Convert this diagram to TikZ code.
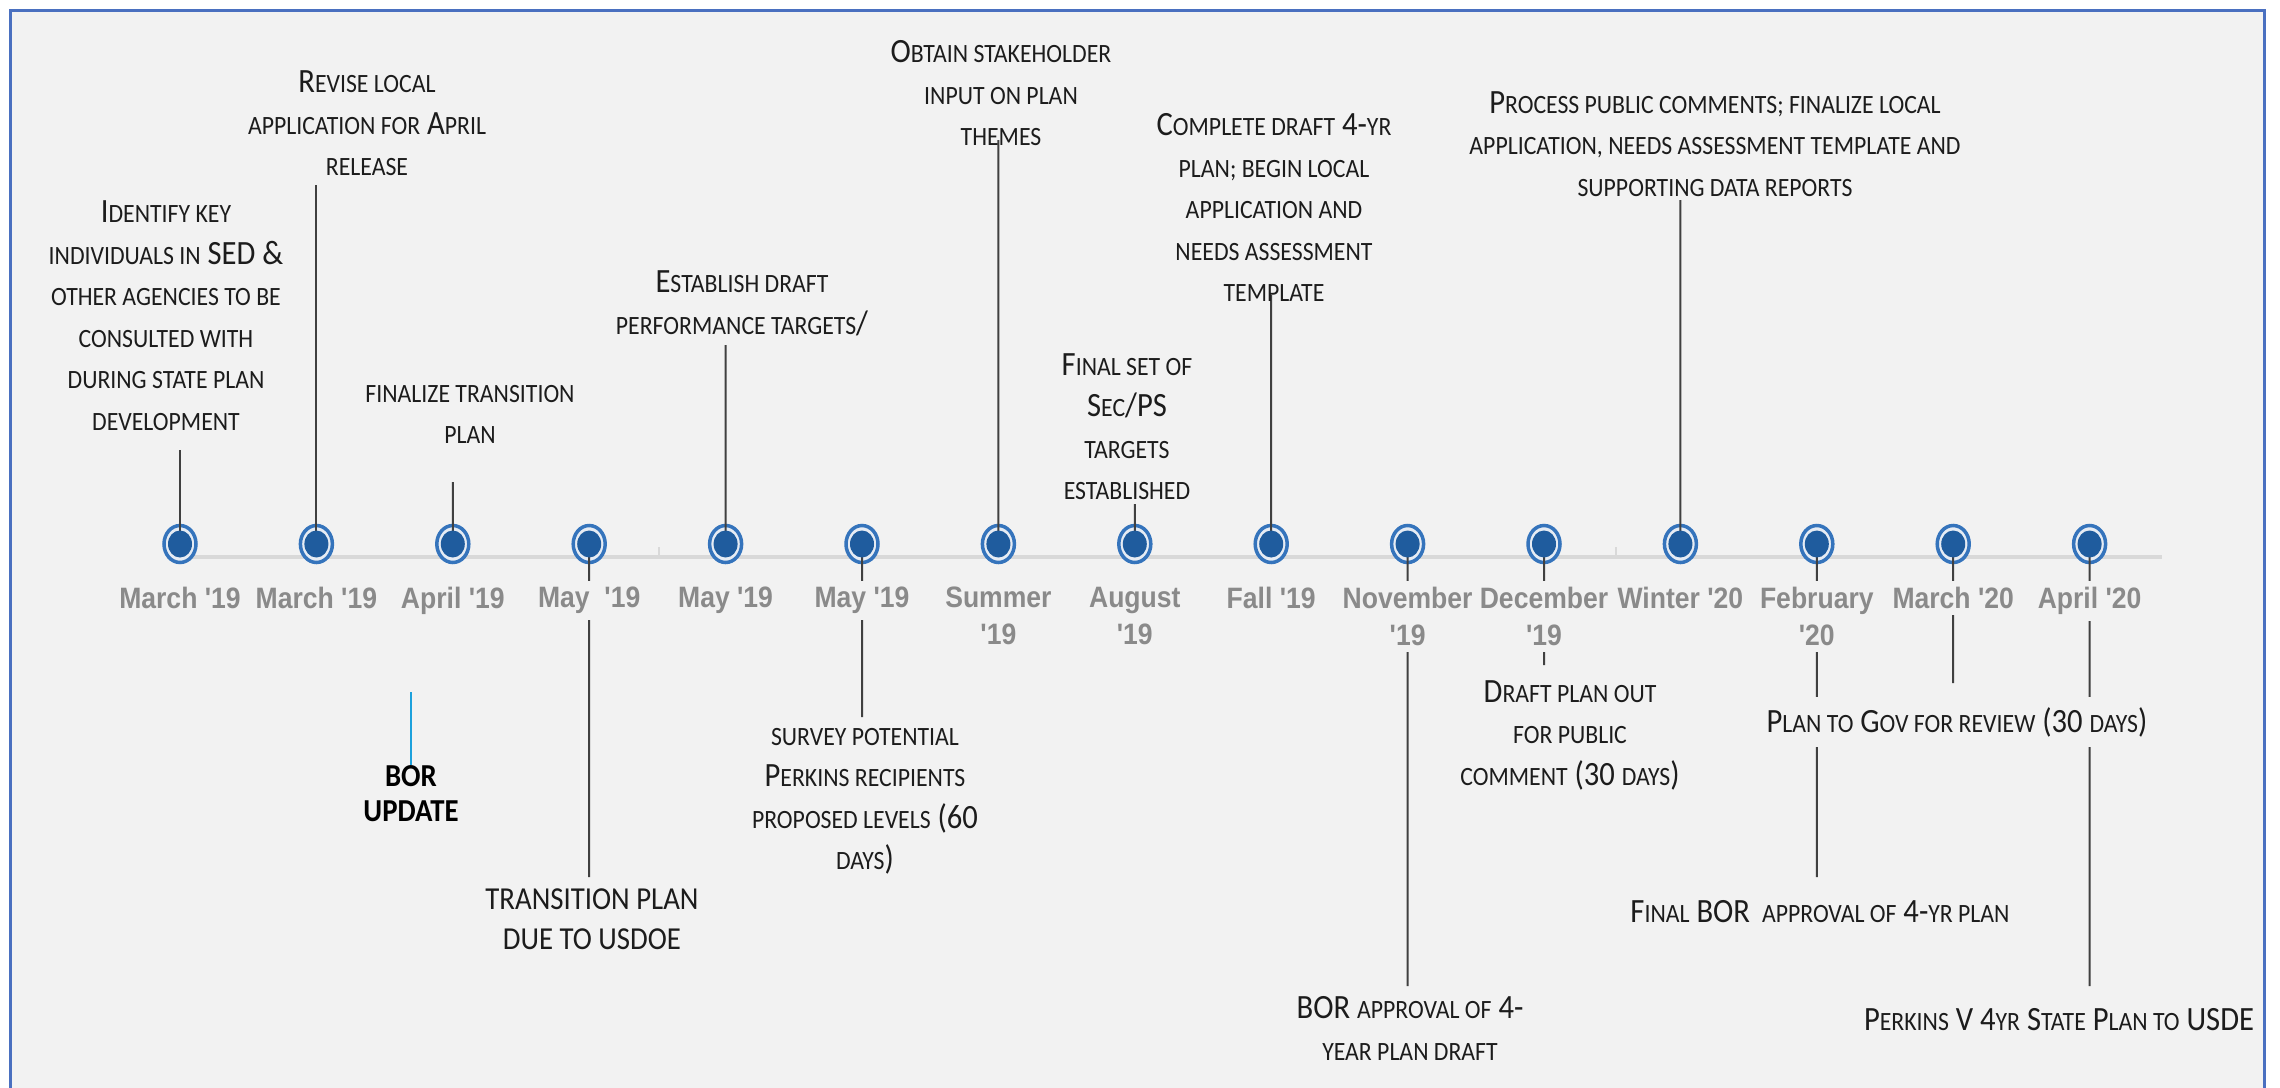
\documentclass[tikz,border=0pt]{standalone}
\usepackage{fontspec}
\usetikzlibrary{shapes.geometric}
\newfontfamily\evfont[FakeStretch=0.9]{Carlito}
\newfontfamily\datefont[FakeStretch=0.9]{Liberation Sans}
\newcommand\lowsc[1]{{\fontsize{26.4}{41.5}\selectfont\MakeUppercase{#1}}}
\definecolor{bg}{HTML}{F2F2F2}
\definecolor{framec}{HTML}{4A70C0}
\definecolor{axisc}{HTML}{D9D9D9}
\definecolor{ringc}{HTML}{3574BC}
\definecolor{corec}{HTML}{1F5C9E}
\definecolor{ringin}{HTML}{E6ECF4}
\definecolor{datec}{HTML}{8A8A8A}
\definecolor{txt}{HTML}{1C1C1C}
\definecolor{connc}{HTML}{404040}
\definecolor{borc}{HTML}{1DA1DC}
\begin{document}
\begin{tikzpicture}[x=1pt,y=-1pt,
  ring/.style={ellipse,draw=ringc,line width=3.5pt,fill=ringin,minimum width=32pt,minimum height=37pt,inner sep=0pt},
  core/.style={ellipse,fill=corec,minimum width=24pt,minimum height=27pt,inner sep=0pt},
  conn/.style={draw=connc,line width=2pt},
  datelbl/.style={anchor=north,font=\datefont\bfseries\fontsize{29.5}{37}\selectfont,text=datec,fill=bg,align=center,inner sep=6pt},
  ev/.style={font=\evfont\fontsize{34}{41.5}\selectfont,align=center,text=txt,inner sep=0pt},
  evfill/.style={ev,fill=bg,inner xsep=4pt,inner ysep=10pt},
  caps/.style={font=\evfont\fontsize{32}{40}\selectfont,align=center,text=txt,inner sep=0pt},
  borlbl/.style={font=\evfont\bfseries\fontsize{32}{35}\selectfont,align=center,text=black,inner sep=0pt},
  borln/.style={draw=borc,line width=2.5pt},
  axis/.style={draw=axisc,line width=3.5pt}]
\useasboundingbox (0,0) rectangle (2280,1087);
\fill[white] (0,0) rectangle (2280,1087);
\draw[framec,line width=3pt,fill=bg] (10,10) rectangle (2264,1110);

% axis
\draw[axis] (167,557) -- (2162,557);
\draw[axisc,line width=1.5pt] (659,557) -- (659,547);
\draw[axisc,line width=1.5pt] (1616,557) -- (1616,547);

% rings
\foreach \i in {1,...,15}
  \node[ring] (d\i) at ({180+136.4*(\i-1)},544) {};

% connector ends
\coordinate (c1) at (180,450);
\coordinate (c2) at (316.4,185);
\coordinate (c3) at (452.8,482);
\coordinate (c4) at (589.2,877);
\coordinate (c5) at (725.6,345);
\coordinate (c6) at (862,717);
\coordinate (c7) at (998.4,140);
\coordinate (c8) at (1134.8,504);
\coordinate (c9) at (1271.2,295);
\coordinate (c10) at (1407.6,986);
\coordinate (c11) at (1544,665);
\coordinate (c12) at (1680.4,200);
\coordinate (c13) at (1816.8,877);
\coordinate (c14) at (1953.2,683);
\coordinate (c15) at (2089.6,986);
\foreach \i in {1,...,15}
  \draw[conn] (d\i.center) -- (c\i);

% cores
\foreach \i in {1,...,15}
  \node[core] (k\i) at (d\i) {};

% date labels
\node[datelbl] (l1) at (180,581) {March '19};
\node[datelbl] (l2) at (316.4,581) {March '19};
\node[datelbl] (l3) at (452.8,581) {April '19};
\node[datelbl] (l4) at (589.2,581) {May\ \ '19};
\node[datelbl] (l5) at (725.6,581) {May '19};
\node[datelbl] (l6) at (862,581) {May '19};
\node[datelbl] (l7) at (998.4,581) {Summer\\'19};
\node[datelbl] (l8) at (1134.8,581) {August\\'19};
\node[datelbl] (l9) at (1271.2,581) {Fall '19};
\node[datelbl] (l10) at (1407.6,581) {November\\'19};
\node[datelbl] (l11) at (1544,581) {December\\'19};
\node[datelbl] (l12) at (1680.4,581) {Winter '20};
\node[datelbl] (l13) at (1816.8,581) {February\\'20};
\node[datelbl] (l14) at (1953.2,581) {March '20};
\node[datelbl] (l15) at (2089.6,581) {April '20};

% event texts above
\node[ev] (t1) at (166,315.5) {I\lowsc{dentify key}\\\lowsc{individuals in} SED \&\\\lowsc{other agencies to be}\\\lowsc{consulted with}\\\lowsc{during state plan}\\\lowsc{development}};
\node[ev] (t2) at (367,123.5) {R\lowsc{evise local}\\\lowsc{application for} A\lowsc{pril}\\\lowsc{release}};
\node[ev] (t3) at (470,414.5) {\lowsc{finalize transition}\\\lowsc{plan}};
\node[ev] (t5) at (742,303.5) {E\lowsc{stablish draft}\\\lowsc{performance targets}/};
\node[ev] (t7) at (1001,93.5) {O\lowsc{btain stakeholder}\\\lowsc{input on plan}\\\lowsc{themes}};
\node[ev] (t8) at (1127,426.5) {F\lowsc{inal set of}\\S\lowsc{ec}/PS\\\lowsc{targets}\\\lowsc{established}};
\node[ev] (t9) at (1274,207.5) {C\lowsc{omplete draft} 4-\lowsc{yr}\\\lowsc{plan; begin local}\\\lowsc{application and}\\\lowsc{needs assessment}\\\lowsc{template}};
\node[ev] (t12) at (1715,144) {P\lowsc{rocess public comments; finalize local}\\\lowsc{application, needs assessment template and}\\\lowsc{supporting data reports}};

% event texts below
\node[caps] (t4) at (592,919) {TRANSITION PLAN\\DUE TO USDOE};
\node[ev] (t6) at (865,801.5) {\lowsc{survey potential}\\P\lowsc{erkins recipients}\\\lowsc{proposed levels} (60\\\lowsc{days})};
\node[ev] (t10) at (1410,1028.5) {BOR \lowsc{approval of} 4-\\\lowsc{year plan draft}};
\node[ev] (t11) at (1570,735) {D\lowsc{raft plan out}\\\lowsc{for public}\\\lowsc{comment} (30 \lowsc{days})};
\node[ev] (t13) at (1820,912) {F\lowsc{inal} BOR\hspace{12pt}\lowsc{approval of} 4-\lowsc{yr plan}};
\node[evfill] (t14) at (1957,722) {P\lowsc{lan to} G\lowsc{ov for review} (30 \lowsc{days})};
\node[ev] (t15) at (2059,1020) {P\lowsc{erkins} V 4\lowsc{yr} S\lowsc{tate} P\lowsc{lan to} USDE};

% BOR update
\node[borlbl] (bor) at (411,793.5) {BOR\\UPDATE};
\coordinate (bortop) at (411,692);
\draw[borln] (bortop) -- (bortop |- bor.north);
\end{tikzpicture}
\end{document}
